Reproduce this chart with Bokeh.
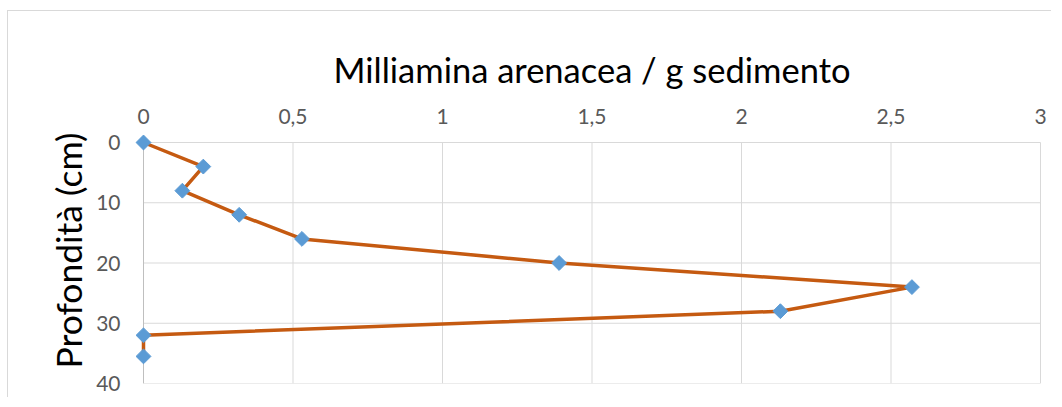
import math
from bokeh.plotting import figure
from bokeh.models import Range1d, FixedTicker, Title
from bokeh.embed import file_html
from bokeh.resources import INLINE

# Data
values = [0, 0.2, 0.13, 0.32, 0.53, 1.39, 2.57, 2.13, 0, 0]
depths = [0, 4, 8, 12, 16, 20, 24, 28, 32, 35.5]
x_ticks = [0, 0.5, 1, 1.5, 2, 2.5, 3]
x_tick_labels = ["0", "0,5", "1", "1,5", "2", "2,5", "3"]
y_ticks = [0, 10, 20, 30, 40]
x_title = "Milliamina arenacea / g sedimento"
y_title = "Profondità (cm)"

FONT = "Lato"
GRID = "#d9d9d9"
X0, X1 = 0, 3
Y0, Y1 = 0, 40
XPAD = 10 / 299.0
YPAD = 10 / 6.025

p = figure(width=1044, height=387, output_backend="svg", toolbar_location=None,
           x_range=Range1d(X0 - XPAD, X1 + XPAD), y_range=Range1d(Y1, Y0 - YPAD),
           x_axis_location="above",
           min_border_left=125, min_border_right=2, min_border_top=121, min_border_bottom=15)
p.styles = {"border-left": "1px solid #d9d9d9", "border-top": "1px solid #d9d9d9",
            "margin-top": "10px", "margin-left": "7px"}
p.background_fill_color = "white"
p.border_fill_color = "white"
p.outline_line_color = None
p.xgrid.visible = False
p.ygrid.visible = False

xa = p.xaxis[0]
xa.ticker = FixedTicker(ticks=x_ticks)
xa.major_label_overrides = {t: l for t, l in zip(x_ticks, x_tick_labels)}
xa.axis_line_color = None
xa.major_tick_line_color = None
xa.major_tick_out = 0
xa.major_tick_in = 0
xa.minor_tick_line_color = None
xa.major_label_text_font = FONT
xa.major_label_text_font_size = "21px"
xa.major_label_text_color = "#595959"
xa.major_label_standoff = 9
xa.axis_label = x_title
xa.axis_label_text_font = FONT
xa.axis_label_text_font_size = "34.5px"
xa.axis_label_text_font_style = "normal"
xa.axis_label_text_color = "#000000"
xa.axis_label_standoff = 16

ya = p.yaxis[0]
ya.ticker = FixedTicker(ticks=y_ticks)
ya.axis_line_color = None
ya.major_tick_line_color = None
ya.major_tick_out = 0
ya.major_tick_in = 0
ya.minor_tick_line_color = None
ya.major_label_text_font = FONT
ya.major_label_text_font_size = "21px"
ya.major_label_text_color = "#595959"
ya.major_label_standoff = 13

p.add_layout(Title(text=y_title, align="right", offset=0, standoff=7,
                   text_font=FONT, text_font_size="35.5px", text_font_style="normal",
                   text_color="#000000"), "left")

# gridlines bounded to the data area
p.segment(x0=x_ticks, y0=[Y0] * len(x_ticks), x1=x_ticks, y1=[Y1] * len(x_ticks),
          line_color=GRID, line_width=1)
p.segment(x0=[X0] * len(y_ticks), y0=y_ticks, x1=[X1] * len(y_ticks), y1=y_ticks,
          line_color=GRID, line_width=1)
# value axis line
p.segment(x0=[X0], y0=[Y0], x1=[X0], y1=[Y1], line_color="#bfbfbf", line_width=1)

p.line(values, depths, line_color="#c55a11", line_width=3.5)
p.scatter(values, depths, marker="square", size=10.5, angle=math.pi / 4,
          fill_color="#5b9bd5", line_color="#5b9bd5")

open("out.html", "w").write(file_html(p, INLINE))
